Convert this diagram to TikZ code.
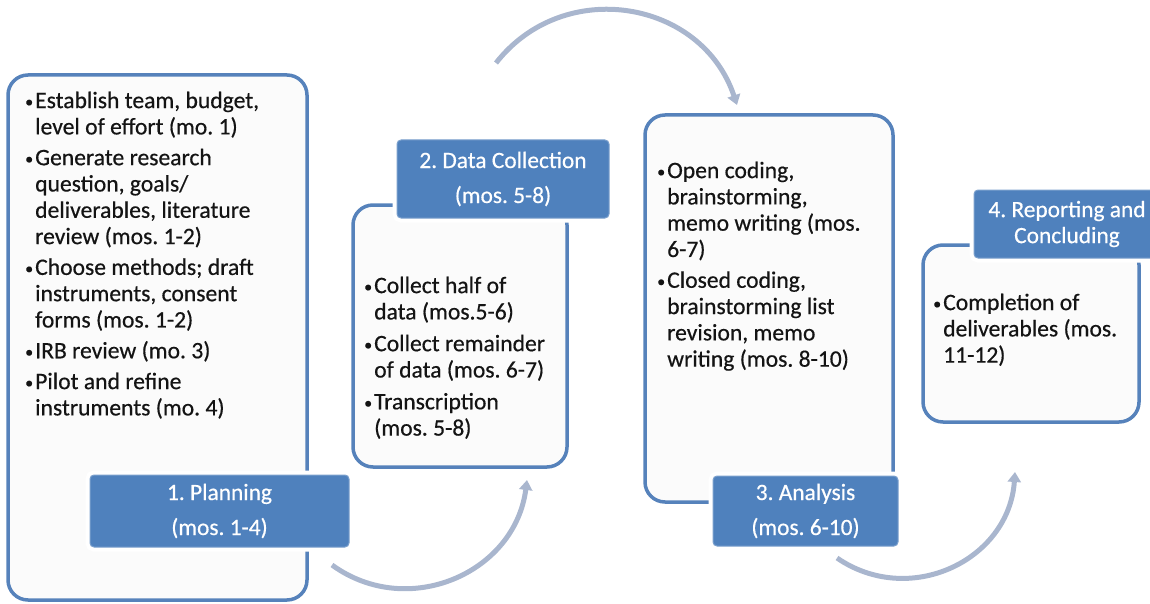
\documentclass[tikz,border=0pt]{standalone}
\usepackage{fontspec}
\setmainfont{Carlito}
\newfontfamily\heavy[FakeBold=0.5]{Carlito}
\usetikzlibrary{arrows.meta}
\definecolor{accent}{HTML}{4F81BD}
\definecolor{boxline}{HTML}{5682BB}
\definecolor{arrowc}{HTML}{A9B6CE}
\definecolor{boxfill}{HTML}{FBFBFB}
\newcommand\bl{\makebox[10pt][l]{\raisebox{1pt}{\fontsize{16}{16}\selectfont •}}}
\newcommand\ind{\hspace*{10pt}}
\tikzset{
  contentbox/.style={rectangle, rounded corners=20pt, draw=boxline, line width=3.5pt, fill=boxfill, inner sep=0pt},
  phaselabel/.style={rectangle, rounded corners=4pt, fill=accent, draw=accent!75!white, line width=1pt,
    preaction={draw=white, line width=9pt}, text=white, inner sep=0pt, align=center,
    font=\heavy\frenchspacing\fontsize{23.4}{35}\selectfont},
  bodytext/.style={anchor=north west, inner sep=0pt, align=left, text=black!92,
    font=\heavy\frenchspacing\fontsize{23.6}{26.3}\selectfont},
  flowarrow/.style={draw=arrowc, line width=5pt, -{Triangle[width=13pt,length=10pt]}}
}
\begin{document}
\begin{tikzpicture}[x=1pt,y=-1pt]
\useasboundingbox (0,0) rectangle (1150,604);
\clip (0,0) rectangle (1150,604);
% content boxes
\node[contentbox, minimum width=299pt, minimum height=525pt] (b1) at (157.5,337.5) {};
\node[contentbox, minimum width=214pt, minimum height=262pt] (b2) at (460,336) {};
\node[contentbox, minimum width=248pt, minimum height=387pt] (b3) at (769,308.5) {};
\node[contentbox, minimum width=216pt, minimum height=177pt] (b4) at (1031,333.5) {};
% body texts
\node[bodytext] (t1) at (25,91.5) {\bl Establish team, budget,\\ \ind level of effort (mo. 1)\\[4.5pt]
\bl Generate research\\ \ind question, goals/\\ \ind deliverables, literature\\ \ind review (mos. 1-2)\\[4.5pt]
\bl Choose methods; draft\\ \ind instruments, consent\\ \ind forms (mos. 1-2)\\[4.5pt]
\bl IRB review (mo. 3)\\[4.5pt]
\bl Pilot and refine\\ \ind instruments (mo. 4)};
\node[bodytext] (t2) at (364,276.5) {\bl Collect half of\\ \ind data (mos.5-6)\\[5.5pt]
\bl Collect remainder\\ \ind of data (mos. 6-7)\\[5.5pt]
\bl Transcription\\ \ind (mos. 5-8)};
\node[bodytext] (t3) at (657,161.5) {\bl Open coding,\\ \ind brainstorming,\\ \ind memo writing (mos.\\ \ind 6-7)\\[4.5pt]
\bl Closed coding,\\ \ind brainstorming list\\ \ind revision, memo\\ \ind writing (mos. 8-10)};
\node[bodytext] (t4) at (933,293.5) {\bl Completion of\\ \ind deliverables (mos.\\ \ind 11-12)};
% phase labels
\node[phaselabel, minimum width=259pt, minimum height=72pt] (l1) at (219.5,511) {1. Planning\\(mos. 1-4)};
\node[phaselabel, minimum width=212pt, minimum height=78pt] (l2) at (503,179) {2. Data Collection\\(mos. 5-8)};
\node[phaselabel, minimum width=185pt, minimum height=70pt] (l3) at (805.5,511) {3. Analysis\\(mos. 6-10)};
\node[phaselabel, minimum width=186pt, minimum height=68pt, font=\heavy\frenchspacing\fontsize{23.4}{26}\selectfont] (l4) at (1067,224) {4. Reporting and\\Concluding};
% arrows
\coordinate (a1s) at (332,565);
\coordinate (a1e) at (527,480);
\coordinate (a2s) at (496,63);
\coordinate (a2e) at (737,105);
\coordinate (a3s) at (837,558);
\coordinate (a3e) at (1015,472);
\draw[flowarrow] (a1s) .. controls (408,620) and (515,573) .. (a1e);
\draw[flowarrow] (a2s) .. controls (564,-24) and (702,0) .. (a2e);
\draw[flowarrow] (a3s) .. controls (910,608) and (1009,560) .. (a3e);
\end{tikzpicture}
\end{document}
